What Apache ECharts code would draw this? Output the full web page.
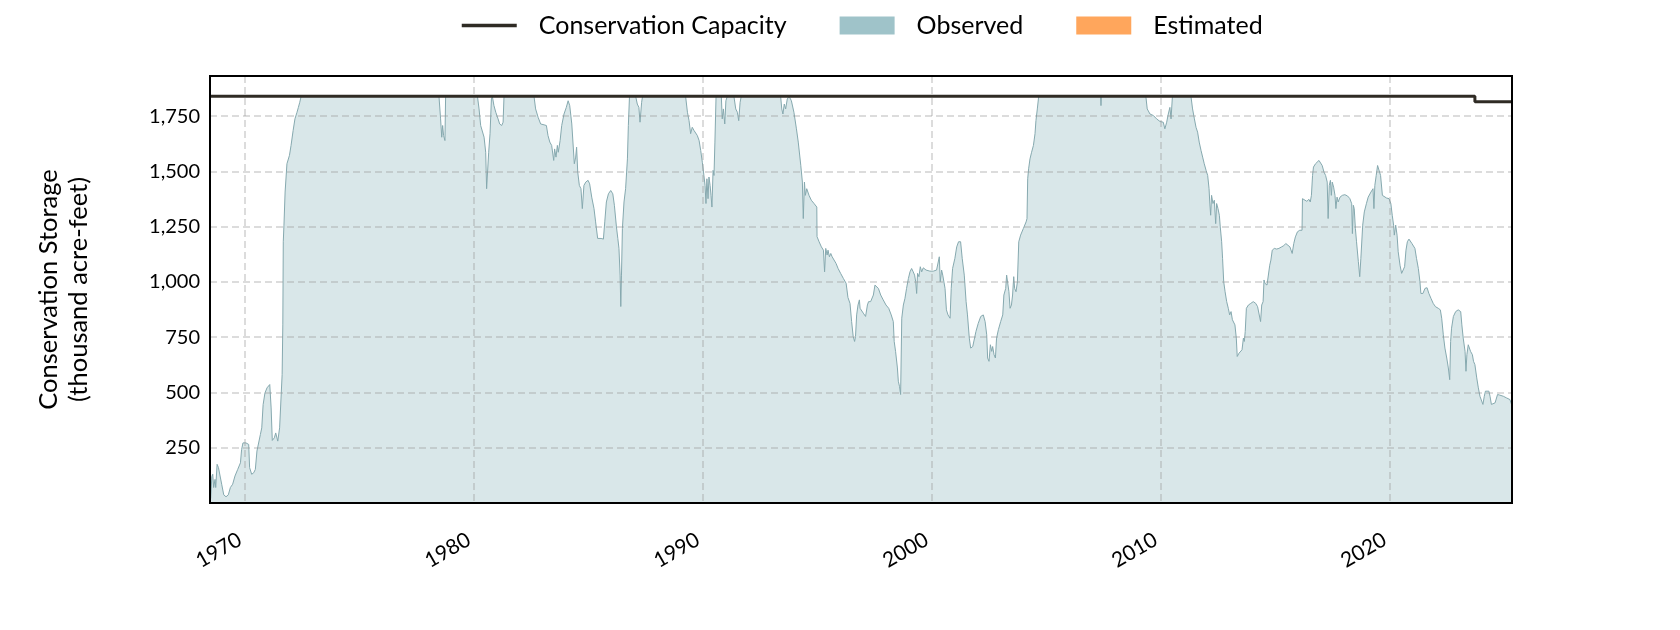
<!DOCTYPE html>
<html>
<head>
<meta charset="utf-8">
<script src="https://cdn.jsdelivr.net/npm/echarts@6/dist/echarts.min.js"></script>
<style>
html,body{margin:0;padding:0;background:#fff;}
#chart{width:1680px;height:630px;}
</style>
</head>
<body>
<div id="chart"></div>
<script>
// ---- data (decimal years, thousand acre-feet) ----
const obsYear = [
1968.50,1968.55,1968.59,1968.63,1968.69,1968.72,1968.78,1968.84,1968.89,1968.98,1969.07,1969.17,1969.27,1969.36,1969.46,1969.56,1969.68,1969.80,1969.85,1969.91,
1970.04,1970.16,1970.20,1970.29,1970.38,1970.45,1970.52,1970.58,1970.67,1970.73,1970.79,1970.87,1970.96,1971.08,1971.14,1971.19,1971.28,1971.34,1971.43,1971.51,
1971.57,1971.62,1971.65,1971.67,1971.70,1971.75,1971.83,1971.94,1972.01,1972.10,1972.18,1972.27,1972.33,1972.39,1972.45,
1978.47,1978.54,1978.59,1978.63,1978.67,1978.73,1978.76,
1980.15,1980.22,1980.29,1980.36,1980.44,1980.51,1980.55,1980.60,1980.64,1980.70,1980.76,1980.80,1980.87,1980.95,1981.05,1981.12,1981.21,1981.27,1981.31,
1982.62,1982.69,1982.80,1982.91,1983.06,1983.16,1983.23,1983.31,1983.39,1983.48,1983.52,1983.58,1983.64,1983.68,1983.76,1983.83,1983.93,1984.03,1984.11,1984.18,
1984.27,1984.32,1984.38,1984.44,1984.48,1984.53,1984.60,1984.67,1984.73,1984.80,1984.88,1984.98,1985.05,1985.14,1985.24,1985.31,1985.40,1985.46,1985.55,1985.65,
1985.71,1985.78,1985.87,1985.97,1986.06,1986.13,1986.22,1986.28,1986.33,1986.38,1986.41,1986.44,1986.48,1986.55,1986.62,1986.70,1986.74,1986.79,
1987.06,1987.13,1987.20,1987.25,1987.32,1987.36,
1989.24,1989.32,1989.39,1989.46,1989.53,1989.61,1989.68,1989.75,1989.83,1989.90,1989.97,1990.04,1990.09,1990.13,1990.17,1990.22,1990.26,1990.31,1990.35,1990.39,
1990.44,1990.48,1990.52,1990.57,1990.80,1990.84,1990.89,1990.95,1991.00,1991.06,1991.35,1991.43,1991.50,1991.56,1991.62,1991.67,
1993.39,1993.44,1993.49,1993.55,1993.61,1993.68,1993.76,1993.86,1993.97,1994.08,1994.16,1994.27,1994.34,1994.38,1994.43,1994.47,1994.53,1994.63,1994.73,1994.85,
1994.97,1994.98,1995.07,1995.17,1995.26,1995.31,1995.36,1995.42,1995.46,1995.52,1995.58,1995.64,1995.72,1995.81,1995.90,1996.01,1996.13,1996.25,1996.33,1996.42,
1996.49,1996.56,1996.62,1996.66,1996.71,1996.77,1996.83,1996.86,1996.93,1997.00,1997.10,1997.18,1997.23,1997.32,1997.38,1997.44,1997.51,1997.58,1997.66,1997.76,
1997.87,1997.99,1998.11,1998.22,1998.31,1998.35,1998.41,1998.49,1998.53,1998.58,1998.63,1998.68,1998.75,1998.82,1998.89,1998.97,1999.04,1999.11,1999.18,1999.24,
1999.29,1999.33,1999.37,1999.43,1999.49,1999.55,1999.62,1999.74,1999.91,2000.06,2000.20,2000.28,2000.32,2000.36,2000.42,2000.47,2000.52,2000.57,2000.63,2000.70,
2000.79,2000.84,2000.90,2001.00,2001.08,2001.16,2001.25,2001.32,2001.41,2001.49,2001.55,2001.63,2001.69,2001.78,2001.86,2001.92,2002.02,2002.13,2002.24,2002.32,
2002.39,2002.43,2002.49,2002.55,2002.61,2002.65,2002.71,2002.77,2002.82,2002.90,2003.00,2003.09,2003.14,2003.22,2003.26,2003.32,2003.36,2003.41,2003.47,2003.52,
2003.57,2003.61,2003.67,2003.73,2003.79,2003.87,2003.99,2004.11,2004.15,2004.18,2004.22,2004.28,2004.35,2004.43,2004.50,2004.54,2004.60,2004.66,
2007.36,2007.38,2007.40,
2009.34,2009.40,2009.52,2009.67,2009.81,2009.96,2010.10,2010.17,2010.25,2010.32,2010.39,2010.44,2010.50,
2011.31,2011.38,2011.46,2011.53,2011.60,2011.67,2011.75,2011.82,2011.89,2011.97,2012.04,2012.10,2012.13,2012.17,2012.21,2012.27,2012.33,2012.39,2012.43,2012.49,
2012.55,2012.59,2012.65,2012.69,2012.74,2012.80,2012.87,2012.94,2013.00,2013.06,2013.12,2013.17,2013.23,2013.29,2013.33,2013.41,2013.48,2013.54,2013.60,2013.64,
2013.68,2013.73,2013.82,2013.92,2014.03,2014.14,2014.22,2014.30,2014.35,2014.40,2014.46,2014.50,2014.54,2014.63,2014.69,2014.75,2014.80,2014.86,2014.95,2015.05,
2015.15,2015.27,2015.36,2015.45,2015.53,2015.63,2015.73,2015.80,2015.87,2015.96,2016.06,2016.16,2016.18,2016.26,2016.37,2016.46,2016.52,2016.57,2016.62,2016.66,
2016.75,2016.83,2016.90,2016.98,2017.04,2017.12,2017.19,2017.26,2017.30,2017.35,2017.40,2017.44,2017.48,2017.54,2017.60,2017.64,2017.69,2017.74,2017.82,2017.92,
2018.03,2018.15,2018.25,2018.33,2018.36,2018.40,2018.44,2018.49,2018.54,2018.62,2018.68,2018.73,2018.81,2018.88,2018.97,2019.05,2019.17,2019.26,2019.30,2019.34,
2019.40,2019.46,2019.53,2019.59,2019.67,2019.74,2019.85,2019.96,2020.04,2020.10,2020.16,2020.19,2020.25,2020.31,2020.36,2020.44,2020.51,2020.58,2020.64,2020.70,
2020.76,2020.83,2020.89,2020.96,2021.03,2021.09,2021.16,2021.24,2021.31,2021.35,2021.44,2021.53,2021.62,2021.70,2021.79,2021.89,2021.99,2022.11,2022.20,2022.26,
2022.33,2022.40,2022.48,2022.55,2022.61,2022.65,2022.69,2022.77,2022.87,2022.98,2023.09,2023.14,2023.20,2023.28,2023.32,2023.36,2023.42,2023.48,2023.52,2023.60,
2023.65,2023.71,2023.79,2023.86,2023.93,2024.00,2024.06,2024.12,2024.17,2024.25,2024.32,2024.37,2024.43,2024.50,2024.59,2024.64,2024.70,2024.80,2024.95,2025.10,
2025.24,2025.31
];
const obsValue = [
20,120,130,70,107,70,175,160,160,85,37,28,37,70,85,122,152,182,242,272,
272,265,160,130,137,152,235,235,310,340,445,498,521,536,430,283,295,317,280,340,
340,581,806,1182,1257,1407,1535,1573,1618,1685,1738,1768,1790,1813,1840,
1840,1738,1655,1708,1663,1640,1840,
1840,1783,1708,1700,1655,1587,1422,1414,1587,1671,1828,1840,1798,1768,1738,1715,1708,1723,1840,
1840,1783,1745,1715,1711,1708,1663,1633,1618,1550,1602,1565,1618,1587,1640,1708,1760,1790,1820,1798,
1715,1723,1535,1565,1610,1497,1437,1422,1332,1437,1452,1460,1444,1384,1332,1272,1197,1190,1197,1194,
1272,1362,1399,1414,1399,1347,1249,1197,1152,1031,889,1031,1242,1362,1422,1557,1708,1840,
1840,1805,1790,1723,1813,1840,
1840,1768,1730,1671,1700,1685,1693,1663,1640,1595,1542,1482,1437,1355,1467,1377,1475,1437,1392,1339,
1505,1482,1633,1840,1840,1738,1783,1715,1820,1840,1840,1783,1768,1730,1813,1840,
1840,1783,1760,1805,1783,1828,1840,1820,1768,1693,1633,1528,1452,1287,1452,1392,1422,1392,1370,1355,
1339,1205,1182,1159,1144,1046,1152,1122,1144,1114,1129,1114,1114,1084,1061,1039,1016,994,930,903,
821,753,731,753,851,896,919,881,874,859,844,896,911,911,903,941,986,986,971,941,
919,896,881,851,821,731,686,611,551,528,491,836,896,926,971,1016,1046,1061,1046,1031,
1001,948,1039,1024,1069,1046,1064,1054,1049,1049,1054,1054,1114,1001,1054,1031,1031,971,874,851,
836,971,1061,1107,1159,1182,1182,1107,1031,911,851,746,701,708,716,776,813,844,851,821,
761,656,641,716,686,708,671,656,746,784,821,851,941,971,1031,1024,956,881,896,941,
1024,971,956,1001,1182,1212,1242,1272,1287,1467,1512,1557,1587,1618,1671,1730,1783,1840,
1840,1798,1840,
1840,1783,1760,1753,1738,1726,1723,1693,1723,1760,1790,1738,1840,
1840,1783,1738,1700,1678,1633,1595,1565,1535,1505,1482,1422,1362,1302,1392,1355,1370,1264,1355,1332,
1302,1249,1182,1107,1001,956,911,881,851,866,829,821,806,746,663,678,678,693,746,731,
776,881,896,903,911,903,888,896,821,896,911,1009,994,986,979,1076,1099,1144,1152,1149,
1152,1159,1164,1174,1182,1159,1129,1174,1204,1227,1234,1234,1377,1370,1365,1374,1362,1392,1482,1520,
1535,1542,1550,1545,1527,1497,1482,1452,1287,1437,1460,1392,1452,1429,1392,1332,1384,1362,1384,1392,
1395,1389,1377,1354,1219,1347,1332,1242,1182,1092,1024,1107,1257,1317,1354,1384,1407,1422,1332,1437,
1482,1527,1520,1482,1392,1384,1380,1377,1354,1302,1257,1212,1257,1212,1137,1076,1039,1046,1069,1144,
1182,1194,1190,1174,1167,1152,1107,1061,1001,948,948,971,974,948,926,903,888,881,874,836,
761,701,656,611,558,731,791,844,866,874,866,806,746,686,596,671,716,723,686,671,
641,626,566,521,483,475,446,483,506,513,506,483,446,438,453,461,491,488,483,475,
468,446
];
const capYear = [1968.47, 2023.71, 2025.33];
const capValue = [1840, 1816, 1816];
const estYear = [];
const estValue = [];
const xTicks = [1970, 1980, 1990, 2000, 2010, 2020];
const yTicks = [250, 500, 750, 1000, 1250, 1500, 1750];

const pairs = (xs, ys) => xs.map((x, i) => [x, ys[i]]);
const FONT = 'Lato';

const chart = echarts.init(document.getElementById('chart'), null, {renderer: 'canvas'});
chart.setOption({
  animation: false,
  backgroundColor: '#fff',
  textStyle: {fontFamily: FONT, color: '#000'},
  legend: {
    top: 8,
    left: 455,
    itemWidth: 55,
    itemHeight: 18,
    itemGap: 53,
    selectedMode: false,
    textStyle: {fontFamily: FONT, fontSize: 25, color: '#000', padding: [0, 0, 0, 17]},
    data: [
      {name: 'Conservation Capacity', itemStyle: {opacity: 0},
       lineStyle: {width: 3.5, color: '#2f2b24', opacity: 1}},
      {name: 'Observed', icon: 'rect'},
      {name: 'Estimated', icon: 'rect'}
    ]
  },
  grid: {left: 210, right: 168, top: 76, bottom: 127, show: true, borderColor: '#000', borderWidth: 2, z: 10},
  xAxis: {
    type: 'value', min: 1968.47, max: 2025.33, z: 4,
    axisLine: {show: false},
    axisTick: {show: false, customValues: xTicks},
    axisLabel: {customValues: xTicks, rotate: 30, margin: 32, fontSize: 21, color: '#000', fontFamily: FONT,
      padding: [0, 6, 0, 0],
      formatter: v => String(Math.round(v))},
    splitLine: {show: true, lineStyle: {color: 'rgba(150,150,150,0.45)', width: 1.5, type: [7, 4]}}
  },
  yAxis: {
    type: 'value', min: 0, max: 1932, z: 4,
    axisLine: {show: false},
    axisTick: {show: false, customValues: yTicks},
    axisLabel: {customValues: yTicks, margin: 10, fontSize: 20, color: '#000', fontFamily: FONT},
    splitLine: {show: true, lineStyle: {color: 'rgba(150,150,150,0.45)', width: 1.5, type: [7, 4]}},
    name: 'Conservation Storage\n(thousand acre-feet)',
    nameLocation: 'middle', nameGap: 116, nameRotate: 90,
    nameTextStyle: {fontSize: 25.5, lineHeight: 30, color: '#000', fontFamily: FONT, align: 'center'}
  },
  series: [
    {
      name: 'Conservation Capacity', type: 'line', step: 'end', symbol: 'none', z: 6,
      data: pairs(capYear, capValue),
      itemStyle: {color: '#2f2b24'},
      lineStyle: {color: '#2f2b24', width: 3}
    },
    {
      name: 'Observed', type: 'line', symbol: 'none', z: 1,
      data: pairs(obsYear, obsValue),
      itemStyle: {color: '#9fc3c9'},
      lineStyle: {color: '#86a9af', width: 1},
      areaStyle: {color: 'rgba(159,195,201,0.4)', opacity: 1}
    },
    {
      name: 'Estimated', type: 'line', symbol: 'none', z: 1,
      data: pairs(estYear, estValue),
      itemStyle: {color: '#ffa65c'},
      areaStyle: {color: 'rgba(255,166,92,0.5)'}
    }
  ]
});
</script>
</body>
</html>
